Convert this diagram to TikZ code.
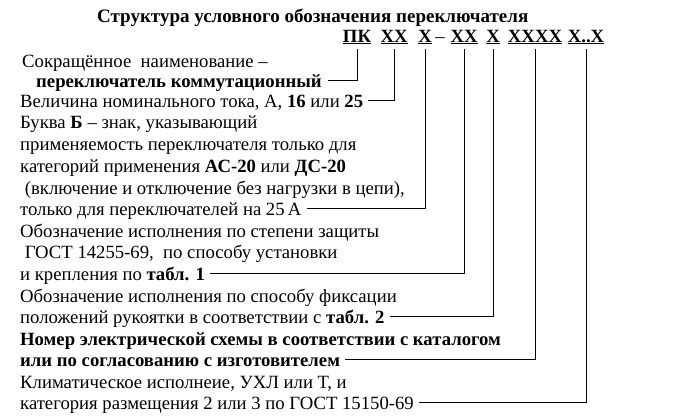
\documentclass[tikz,border=0pt]{standalone}
\usepackage{fontspec}
\setmainfont{Liberation Serif}
\usetikzlibrary{positioning}

\begin{document}
\begin{tikzpicture}[x=1pt, y=-1pt,
    txt/.style={anchor=base west, inner sep=0pt, font=\fontsize{18.7}{22}\selectfont},
    code/.style={anchor=base, inner sep=0pt, font=\fontsize{18.7}{22}\selectfont\bfseries},
    lead/.style={line width=0.7pt}]
    \useasboundingbox (0,0) rectangle (685,415);
    % title and code
    \node[code, anchor=base west, font=\fontsize{19}{22}\selectfont\bfseries] (title) at (97,23)
        {Структура условного обозначения переключателя};
    \node[code] (pk)    at (357,42) {\underline{ПК}};
    \node[code] (tokc)  at (394,42) {\underline{ХХ}};
    \node[code] (bukc)  at (425,42) {\underline{Х}};
    \node[txt, anchor=base] (dash) at (440,42) {–};
    \node[code] (zasc)  at (464,42) {\underline{ХХ}};
    \node[code] (fiksc) at (493,42) {\underline{Х}};
    \node[code] (shc)   at (535,42) {\underline{ХХХХ}};
    \node[code] (klc)   at (586,42) {\underline{Х..Х}};
    % descriptions
    \node[txt] (sokr)   at (22,67)  {Сокращённое\ \ наименование –};
    \node[txt] (perekl) at (36,87)  {\bfseries переключатель коммутационный};
    \node[txt] (tok)    at (20,107) {Величина номинального тока, А, \textbf{16} или \textbf{25}};
    \node[txt] (b1)     at (20,128.5) {Буква \textbf{Б} – знак, указывающий};
    \node[txt] (b2)     at (20,150) {применяемость переключателя только для};
    \node[txt] (b3)     at (20,172) {категорий применения \textbf{АС-20} или \textbf{ДС-20}};
    \node[txt] (b4)     at (20,194) {\ (включение и отключение без нагрузки в цепи),};
    \node[txt] (b5)     at (20,215) {только для переключателей на 25\,А};
    \node[txt] (z1)     at (20,237) {Обозначение исполнения по степени защиты};
    \node[txt] (z2)     at (20,258.5) {\ ГОСТ 14255-69,\ \ по способу установки};
    \node[txt] (z3)     at (20,280) {и крепления по \textbf{табл. 1}};
    \node[txt] (f1)     at (20,302) {Обозначение исполнения по способу фиксации};
    \node[txt] (f2)     at (20,323) {положений рукоятки в соответствии с \textbf{табл. 2}};
    \node[txt] (s1)     at (20,345) {\bfseries Номер электрической схемы в соответствии с каталогом};
    \node[txt] (s2)     at (20,366) {\bfseries или по согласованию с изготовителем};
    \node[txt] (k1)     at (20,388) {Климатическое исполнеие, УХЛ или Т, и};
    \node[txt] (k2)     at (20,409) {категория размещения 2 или 3 по ГОСТ 15150-69};
    % leaders
    \draw[lead] ([xshift=6pt,yshift=6.5pt]perekl.base east) -| ([yshift=-5pt]pk.south);
    \draw[lead] ([xshift=5pt,yshift=6.5pt]tok.base east) -| ([yshift=-5pt]tokc.south);
    \draw[lead] ([xshift=5pt,yshift=6.5pt]b5.base east) -| ([yshift=-5pt]bukc.south);
    \draw[lead] ([xshift=5pt,yshift=6.5pt]z3.base east) -| ([yshift=-5pt]zasc.south);
    \draw[lead] ([xshift=5pt,yshift=6.5pt]f2.base east) -| ([yshift=-5pt]fiksc.south);
    \draw[lead] ([xshift=5pt,yshift=6.5pt]s2.base east) -| ([yshift=-5pt]shc.south);
    \draw[lead] ([xshift=5pt,yshift=6.5pt]k2.base east) -| ([yshift=-5pt]klc.south);
\end{tikzpicture}
\end{document}
